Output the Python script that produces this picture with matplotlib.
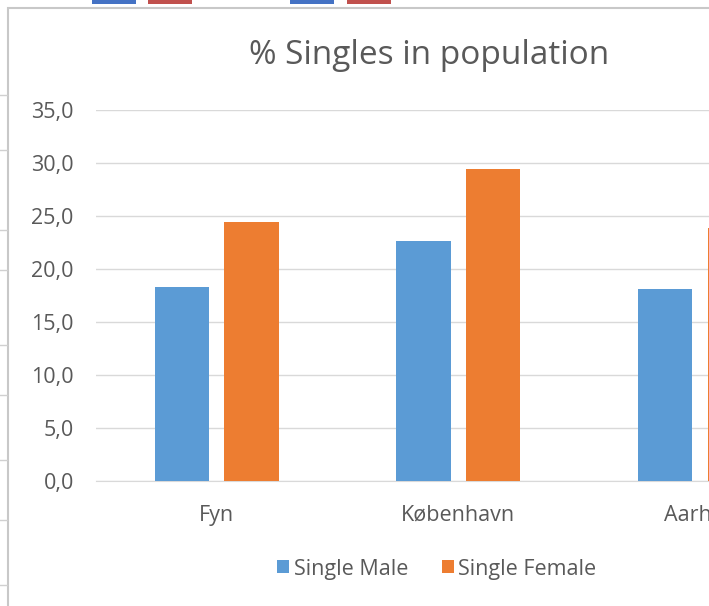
import matplotlib
matplotlib.use('Agg')
import matplotlib.pyplot as plt
import numpy as np
from matplotlib.patches import Rectangle
from matplotlib.lines import Line2D

# data (Aarhus is cut off at the right edge)
regions = ['Fyn', 'København', 'Aarhus']
single_male = [18.3, 22.6, 18.1]
single_female = [24.4, 29.4, 23.9]
y_ticks = [0, 5, 10, 15, 20, 25, 30, 35]

BLUE = '#5B9BD5'
ORANGE = '#ED7D31'
TEXT = '#595959'
GRID = '#D9D9D9'

plt.rcParams['font.family'] = ['Open Sans', 'DejaVu Sans']

fig = plt.figure(figsize=(7.09, 6.06), dpi=100)

# chart area frame + bits of the spreadsheet behind it
fig.add_artist(Rectangle((8 / 709, -0.01), 1.0, (606 - 8) / 606 + 0.01,
                         transform=fig.transFigure, fill=False,
                         edgecolor='#C8C8C8', lw=1.5))
for yy in [95, 150, 230, 270, 345, 395, 460, 520, 585]:
    fig.add_artist(Line2D([0, 7 / 709], [1 - yy / 606] * 2,
                          transform=fig.transFigure, color='#D0D0D0', lw=1))
for x0, c in [(92, '#4472C4'), (148, '#C0504D'), (290, '#4472C4'), (347, '#C0504D')]:
    fig.add_artist(Rectangle((x0 / 709, 1 - 4 / 606), 44 / 709, 4 / 606,
                             transform=fig.transFigure, color=c, lw=0))

ax = fig.add_axes([96 / 709, 125 / 606, 1 - 96 / 709, 371 / 606])

x = np.arange(len(regions))
w = 0.224
off = 0.144
ax.bar(x - off, single_male, w, color=BLUE, label='Single Male', zorder=3)
ax.bar(x + off, single_female, w, color=ORANGE, label='Single Female', zorder=3)

ax.set_xlim(-0.5, 2.038)
ax.set_ylim(0, 35)
ax.set_yticks(y_ticks)
ax.set_yticklabels([f'{v:.1f}'.replace('.', ',') for v in y_ticks])
ax.set_xticks(x)
ax.set_xticklabels(regions)
ax.tick_params(axis='y', length=0, pad=16, labelsize=15.5, labelcolor=TEXT)
ax.tick_params(axis='x', length=0, pad=17, labelsize=15.5, labelcolor=TEXT)
ax.grid(axis='y', color=GRID, lw=1, zorder=0)
for s in ['top', 'right', 'left']:
    ax.spines[s].set_visible(False)
ax.spines['bottom'].set_color(GRID)

fig.text(429 / 709, 1 - 55 / 606, '% Singles in population', ha='center',
         va='center', fontsize=24, color=TEXT)

fig.legend(loc='center', bbox_to_anchor=(437 / 709, 1 - 569 / 606), ncol=2,
           frameon=False, fontsize=15.5, labelcolor=TEXT, handlelength=0.55,
           handleheight=0.55, handletextpad=0.2, columnspacing=1.6)

fig.savefig('out.png', dpi=100)
